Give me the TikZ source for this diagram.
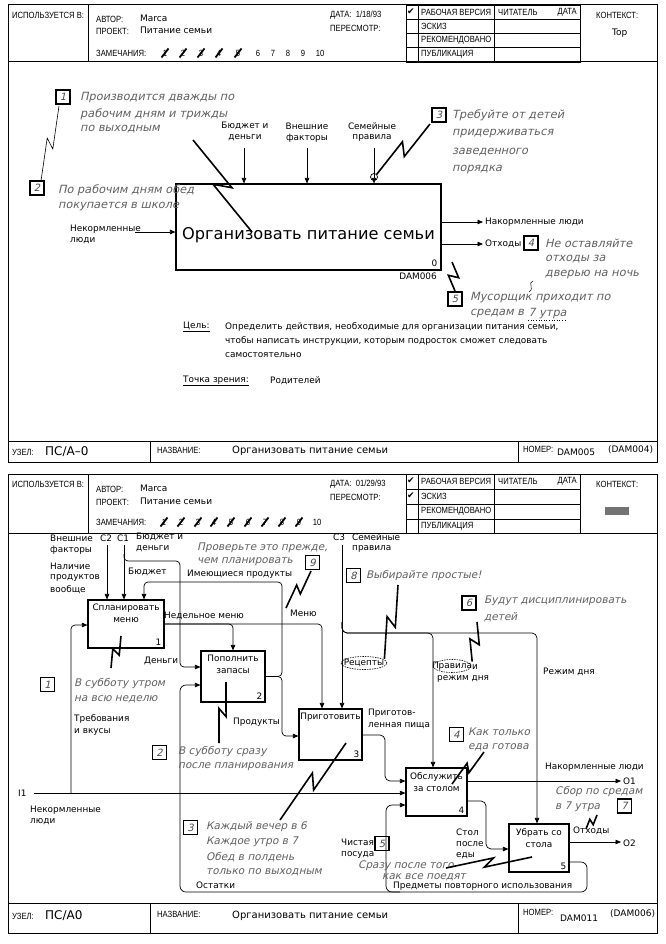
\documentclass[tikz,border=0pt]{standalone}
\usepackage{fontspec}
\setmainfont{DejaVu Sans}
\newfontfamily\lblfont{DejaVu Sans}
\newfontfamily\hdrfont[FakeStretch=0.85]{Liberation Sans}
\newfontfamily\notefont[FakeSlant=0.22]{DejaVu Sans}
\newfontfamily\symfont{DejaVu Sans}
\usetikzlibrary{arrows.meta,calc,shapes.geometric}
\tikzset{
  frame/.style={line width=1pt},
  grid/.style={line width=0.9pt},
  actbox/.style={draw, line width=1.1pt, inner sep=0pt},
  conn/.style={line width=0.7pt, -{Triangle[length=5.5pt,width=4.5pt]}},
  zapline/.style={line width=1.6pt},
  thinzap/.style={line width=0.6pt},
  lbl/.style={font=\lblfont\fontsize{8.9}{10}\selectfont, inner sep=0pt, anchor=west},
  lblc/.style={font=\lblfont\fontsize{8.9}{10}\selectfont, inner sep=0pt, anchor=center},
  hdr/.style={font=\hdrfont\fontsize{9}{10}\selectfont, inner sep=0pt, anchor=west},
  hdrval/.style={font=\lblfont\fontsize{9}{10}\selectfont, inner sep=0pt, anchor=west},
  notet/.style={font=\notefont\fontsize{11.3}{12}\selectfont, text=black!62, inner sep=0pt, anchor=west},
  noteb/.style={font=\notefont\fontsize{10.5}{12}\selectfont, text=black!62, inner sep=0pt, anchor=west},
  notebox/.style={draw, line width=1.1pt, minimum size=14pt, inner sep=0pt, font=\notefont\fontsize{10}{10}\selectfont, text=black!70},
  chk/.style={font=\symfont\fontsize{9}{9}\selectfont, inner sep=0pt},
}
\newcommand{\zap}[4][zapline]{\draw[#1] (#2) -- ($(#2)!0.56!(#3)!#4pt!90:(#3)$) -- ($(#2)!0.44!(#3)!#4pt!-90:(#3)$) -- (#3);}
\newcommand{\crossnum}[4]{\node[hdr,anchor=center] (#4) at (#1,#2) {#3}; \draw[line width=1.8pt] ({#1-3.5},{#2+4.5}) -- ({#1+3.5},{#2-4.5});}
\begin{document}
\begin{tikzpicture}[x=1pt,y=-1pt]
\fill[white] (0,0) rectangle (665,944);
\useasboundingbox (0,0) rectangle (665,944);

% ================= TOP SHEET =================
\draw[frame] (8,5) rectangle (657,462);
\draw[frame] (8,62) -- (657,62);
\draw[grid] (88,5) -- (88,62);
\draw[grid] (406,5) rectangle (580,62);
\draw[grid] (406,19) -- (580,19) (406,33) -- (580,33) (406,47) -- (580,47);
\draw[grid] (418,5) -- (418,62) (494,5) -- (494,62);
\node[hdr] (h1a) at (12,15) {ИСПОЛЬЗУЕТСЯ В:};
\node[hdr] (h1b) at (96,19) {АВТОР:};
\node[hdrval] (h1c) at (140,18) {Marca};
\node[hdr] (h1d) at (96,31) {ПРОЕКТ:};
\node[hdrval] (h1e) at (140,30) {Питание семьи};
\node[hdr] (h1f) at (96,53) {ЗАМЕЧАНИЯ:};
\crossnum{165}{53}{1}{m1a}
\crossnum{183}{53}{2}{m1b}
\crossnum{201}{53}{3}{m1c}
\crossnum{219}{53}{4}{m1d}
\crossnum{238}{53}{5}{m1e}
\node[hdr,anchor=center] (m1f) at (258,53) {6};
\node[hdr,anchor=center] (m1g) at (273,53) {7};
\node[hdr,anchor=center] (m1h) at (288,53) {8};
\node[hdr,anchor=center] (m1i) at (303,53) {9};
\node[hdr,anchor=center] (m1j) at (320,53) {10};
\node[hdr] (h1g) at (330,15) {ДАТА: \ 1/18/93};
\node[hdr] (h1h) at (330,28) {ПЕРЕСМОТР:};
\node[chk] (h1q) at (411,12) {✔};
\node[hdr] (h1i) at (421,12) {РАБОЧАЯ ВЕРСИЯ};
\node[hdr] (h1j) at (421,26) {ЭСКИЗ};
\node[hdr] (h1k) at (421,40) {РЕКОМЕНДОВАНО};
\node[hdr] (h1l) at (421,54) {ПУБЛИКАЦИЯ};
\node[hdr] (h1m) at (498,12) {ЧИТАТЕЛЬ};
\node[hdr,anchor=east] (h1n) at (577,12) {ДАТА};
\node[hdr] (h1o) at (596,15) {КОНТЕКСТ:};
\node[hdrval] (h1p) at (612,33) {Top};

% footer
\draw[frame] (8,441) -- (657,441);
\draw[grid] (150,441) -- (150,462) (518,441) -- (518,462);
\node[hdr] (f1a) at (12,452) {УЗЕЛ:};
\node[font=\lblfont\fontsize{12}{12}\selectfont, inner sep=0pt, anchor=west] (f1b) at (45,452) {ПС/А–0};
\node[hdr] (f1c) at (157,450) {НАЗВАНИЕ:};
\node[font=\lblfont\fontsize{10}{10}\selectfont, inner sep=0pt, anchor=west] (f1d) at (232,451) {Организовать питание семьи};
\node[hdr] (f1e) at (523,449) {НОМЕР:};
\node[hdrval] (f1f) at (557,452) {DAM005};
\node[hdrval] (f1g) at (608,450) {(DAM004)};

% main box
\node[actbox, minimum width=265, minimum height=86] (t0) at (308.5,227) {};
\node[font=\lblfont\fontsize{16.2}{17}\selectfont, inner sep=0pt] (t0t) at (308.5,235) {Организовать питание семьи};
\node[lbl, anchor=south east] (t0n) at ([xshift=-4pt,yshift=4pt]t0.south east) {0};
\node[lbl, anchor=east] (t0d) at (437,276) {DAM006};

% inputs/controls/outputs
\node[lbl] (tl1) at (70,229) {Некормленные};
\node[lbl] (tl2) at (70,241) {люди};
\coordinate (tin) at (135,232);
\draw[conn] (tin) -- (t0.west |- tin);
\node[lblc] (tl3) at (245,126) {Бюджет и};
\node[lblc] (tl4) at (245,138) {деньги};
\node[lblc] (tl5) at (307,126) {Внешние};
\node[lblc] (tl6) at (307,138) {факторы};
\node[lblc] (tl7) at (372,126) {Семейные};
\node[lblc] (tl8) at (372,138) {правила};
\coordinate (tc1) at (244,148);
\coordinate (tc2) at (307,148);
\coordinate (tc3) at (374,148);
\draw[conn] (tc1) -- (t0.north -| tc1);
\draw[conn] (tc2) -- (t0.north -| tc2);
\draw[conn] (tc3) -- (t0.north -| tc3);
\node[draw, circle, minimum size=7pt, inner sep=0pt, line width=0.7pt] (tcirc) at (374,177) {};
\coordinate (to1) at (483,222);
\coordinate (to2) at (483,244);
\draw[conn] (t0.east |- to1) -- (to1);
\draw[conn] (t0.east |- to2) -- (to2);
\node[lbl] (tl9) at (485,222) {Накормленные люди};
\node[lbl] (tl10) at (485,244) {Отходы};

% notes top
\node[notebox] (tn1) at (63,97) {1};
\node[notet] (tn1a) at (80,98) {Производится дважды по};
\node[notet] (tn1b) at (80,114) {рабочим дням и трижды};
\node[notet] (tn1c) at (80,129) {по выходным};
\node[notebox] (tn2) at (37,188) {2};
\node[notet] (tn2a) at (58,190) {По рабочим дням обед};
\node[notet] (tn2b) at (58,207) {покупается в школе};
\node[notebox] (tn3) at (439,115) {3};
\node[notet] (tn3a) at (452,115) {Требуйте от детей};
\node[notet] (tn3b) at (452,134) {придерживаться};
\node[notet] (tn3c) at (452,152) {заведенного};
\node[notet] (tn3d) at (452,170) {порядка};
\node[notebox] (tn4) at (531,243) {4};
\node[notet] (tn4a) at (545,243) {Не оставляйте};
\node[notet] (tn4b) at (545,259) {отходы за};
\node[notet] (tn4c) at (545,275) {дверью на ночь};
\node[notebox] (tn5) at (455,299) {5};
\node[notet] (tn5a) at (470,298) {Мусорщик приходит по};
\node[notet] (tn5b) at (470,314) {средам в};
\node[notet, anchor=west] (tn5c) at ([xshift=4pt]tn5b.east) {7 утра};
\draw[dotted, line width=0.6pt] ([yshift=-1pt]tn5c.south west) -- ([yshift=-1pt]tn5c.south east);
\zap[thinzap]{59,106}{41,181}{4}
\zap{193,140}{252,232}{7}
\zap{430,124}{tcirc.north east}{6}
\zap{452,262}{455,291}{5}
\draw[line width=0.5pt] (533,281) .. controls (527,283) and (535,288) .. (529,292);

% goal
\node[lbl] (goalk) at (183,327) {\underline{Цель:}};
\node[lbl] (goal1) at (225,327) {Определить действия, необходимые для организации питания семьи,};
\node[lbl] (goal2) at (225,341) {чтобы написать инструкции, которым подросток сможет следовать};
\node[lbl] (goal3) at (225,355) {самостоятельно};
\node[lbl] (vpk) at (183,381) {\underline{Точка зрения:}};
\node[lbl] (vp1) at (270,381) {Родителей};

% ================= BOTTOM SHEET =================
\draw[frame] (8,474) rectangle (657,933);
\draw[frame] (8,533) -- (657,533);
\draw[grid] (88,474) -- (88,533);
\draw[grid] (406,474) rectangle (580,533);
\draw[grid] (406,489) -- (580,489) (406,504) -- (580,504) (406,519) -- (580,519);
\draw[grid] (418,474) -- (418,533) (494,474) -- (494,533);
\node[hdr] (h2a) at (12,484) {ИСПОЛЬЗУЕТСЯ В:};
\node[hdr] (h2b) at (96,489) {АВТОР:};
\node[hdrval] (h2c) at (140,488) {Marca};
\node[hdr] (h2d) at (96,502) {ПРОЕКТ:};
\node[hdrval] (h2e) at (140,501) {Питание семьи};
\node[hdr] (h2f) at (96,522) {ЗАМЕЧАНИЯ:};
\crossnum{164}{522}{1}{m2a}
\crossnum{181}{522}{2}{m2b}
\crossnum{198}{522}{3}{m2c}
\crossnum{214}{522}{4}{m2d}
\crossnum{231}{522}{5}{m2e}
\crossnum{248}{522}{6}{m2f}
\crossnum{265}{522}{7}{m2g}
\crossnum{282}{522}{8}{m2h}
\crossnum{299}{522}{9}{m2i}
\node[hdr,anchor=center] (m2j) at (317,522) {10};
\node[hdr] (h2g) at (330,484) {ДАТА: \ 01/29/93};
\node[hdr] (h2h) at (330,497) {ПЕРЕСМОТР:};
\node[chk] (h2q) at (411,481) {✔};
\node[chk] (h2r) at (411,496) {✔};
\node[hdr] (h2i) at (421,481.5) {РАБОЧАЯ ВЕРСИЯ};
\node[hdr] (h2j) at (421,496.5) {ЭСКИЗ};
\node[hdr] (h2k) at (421,511.5) {РЕКОМЕНДОВАНО};
\node[hdr] (h2l) at (421,526) {ПУБЛИКАЦИЯ};
\node[hdr] (h2m) at (498,481.5) {ЧИТАТЕЛЬ};
\node[hdr,anchor=east] (h2n) at (577,481.5) {ДАТА};
\node[hdr] (h2o) at (596,484) {КОНТЕКСТ:};
\node[fill=black!55, minimum width=24pt, minimum height=8pt, inner sep=0pt] (ctxb) at (617,511) {};

% footer
\draw[frame] (8,903) -- (657,903);
\draw[grid] (150,903) -- (150,933) (518,903) -- (518,933);
\node[hdr] (f2a) at (12,916) {УЗЕЛ:};
\node[font=\lblfont\fontsize{12}{12}\selectfont, inner sep=0pt, anchor=west] (f2b) at (45,916) {ПС/А0};
\node[hdr] (f2c) at (157,914) {НАЗВАНИЕ:};
\node[font=\lblfont\fontsize{10}{10}\selectfont, inner sep=0pt, anchor=west] (f2d) at (232,916) {Организовать питание семьи};
\node[hdr] (f2e) at (523,912) {НОМЕР:};
\node[hdrval] (f2f) at (560,918) {DAM011};
\node[hdrval] (f2g) at (610,914) {(DAM006)};

% activity boxes
\node[actbox, minimum width=76, minimum height=48] (b1) at (126,624) {};
\node[lblc, align=center, anchor=north, font=\lblfont\fontsize{8.9}{12}\selectfont] (b1t) at (126,604) {Спланировать\\меню};
\node[lbl, anchor=south east] (b1n) at ([xshift=-3pt,yshift=3pt]b1.south east) {1};
\node[actbox, minimum width=64, minimum height=51] (b2) at (233,676.5) {};
\node[lblc, align=center, anchor=north, font=\lblfont\fontsize{8.9}{12}\selectfont] (b2t) at (233,655) {Пополнить\\запасы};
\node[lbl, anchor=south east] (b2n) at ([xshift=-3pt,yshift=3pt]b2.south east) {2};
\node[actbox, minimum width=63, minimum height=51] (b3) at (330.5,734.5) {};
\node[lblc, anchor=north] (b3t) at (330.5,713) {Приготовить};
\node[lbl, anchor=south east] (b3n) at ([xshift=-3pt,yshift=3pt]b3.south east) {3};
\node[actbox, minimum width=61, minimum height=48] (b4) at (436.5,792) {};
\node[lblc, align=center, anchor=north, font=\lblfont\fontsize{8.9}{12}\selectfont] (b4t) at (436.5,772) {Обслужить\\за столом};
\node[lbl, anchor=south east] (b4n) at ([xshift=-3pt,yshift=3pt]b4.south east) {4};
\node[actbox, minimum width=60, minimum height=48] (b5) at (539,848) {};
\node[lblc, align=center, anchor=north, font=\lblfont\fontsize{8.9}{12}\selectfont] (b5t) at (539,828) {Убрать со\\стола};
\node[lbl, anchor=south east] (b5n) at ([xshift=-3pt,yshift=3pt]b5.south east) {5};

% connectors
\coordinate (c2top) at (107,545);
\coordinate (c1top) at (124,545);
\coordinate (c3top) at (342,545);
\coordinate (i1) at (34,793);
\coordinate (o1) at (621,781);
\coordinate (o2) at (621,842);
\draw[conn] (c2top) -- (b1.north -| c2top);
\draw[conn] (c1top) -- (b1.north -| c1top);
\draw[conn, rounded corners=4] (124,554) |- (180,561) |- (b2.west |- 0,667);
\draw[conn] (i1) -- (b4.west |- i1);
\draw[conn, rounded corners=4] (71,793) |- (b1.west |- 0,625);
\draw[conn, rounded corners=4] (b1.east) -| (b2.north);
\draw[conn, rounded corners=4] (b1.east) -| (b3.north -| 322,0);
\draw[conn, rounded corners=4] (b2.east) -| (282,582) -| (b1.north -| 144,0);
\draw[conn, rounded corners=4] (b2.east) -| (282,736) -- (b3.west |- 0,736);
\draw[conn] (c3top) -- (b3.north -| c3top);
\draw[conn, rounded corners=5] (342,622) |- (433,633) -- (b4.north -| 433,0);
\draw[conn, rounded corners=5] (342,622) |- (537,633) -- (b5.north -| 537,0);
\draw[conn, rounded corners=5] (b3.east |- 0,735) -| (385,781) -- (b4.west |- 0,781);
\draw[conn, rounded corners=6] (b5.east |- 0,862) -| (587,892) -| (386,805) -- (b4.west |- 0,805);
\draw[conn, rounded corners=6] (400,892) -| (180,685) -- (b2.west |- 0,685);
\draw[conn, rounded corners=5] (b4.east |- 0,801) -| (486,849) -- (b5.west |- 0,849);
\draw[conn] (b4.east |- o1) -- (o1);
\draw[conn] (b5.east |- o2) -- (o2);

% labels bottom
\node[lbl] (l1) at (50,538) {Внешние};
\node[lbl] (l2) at (50,550) {факторы};
\node[lbl] (l3) at (100,538) {C2};
\node[lbl] (l4) at (117,538) {C1};
\node[lbl] (l5) at (136,537) {Бюджет и};
\node[lbl] (l6) at (136,549) {деньги};
\node[lbl] (l7) at (50,566) {Наличие};
\node[lbl] (l8) at (50,578) {продуктов};
\node[lbl] (l9) at (50,590) {вообще};
\node[lbl] (l10) at (128,572) {Бюджет};
\node[lbl] (l11) at (187,574) {Имеющиеся продукты};
\node[lbl] (l12) at (333,537) {C3};
\node[lbl] (l13) at (352,537) {Семейные};
\node[lbl] (l14) at (352,549) {правила};
\node[lbl] (l15) at (164,616) {Недельное меню};
\node[lbl] (l16) at (290,613) {Меню};
\node[lbl] (l17) at (144,661) {Деньги};
\node[lblc] (rec) at (364,663) {Рецепты};
\draw[dash pattern=on 1.5pt off 1pt, line width=0.6pt] (rec.center) ellipse [x radius=23pt, y radius=6.5pt];
\node[lblc] (prv) at (452,666) {Правила};
\draw[dash pattern=on 1.5pt off 1pt, line width=0.6pt] (prv.center) ellipse [x radius=19pt, y radius=6.5pt];
\node[lbl] (l18) at (472,667) {и};
\node[lbl] (l19) at (437,679) {режим дня};
\node[lbl] (l20) at (543,672) {Режим дня};
\node[lbl] (l21) at (74,719) {Требования};
\node[lbl] (l22) at (74,732) {и вкусы};
\node[lbl] (l23) at (233,722) {Продукты};
\node[lbl] (l24) at (368,713) {Приготов-};
\node[lbl] (l25) at (368,726) {ленная пища};
\node[lbl] (l26) at (545,767) {Накормленные люди};
\node[lbl] (l27) at (623,781) {O1};
\node[lbl] (l28) at (18,793) {I1};
\node[lbl] (l29) at (30,810) {Некормленные};
\node[lbl] (l30) at (30,822) {люди};
\node[lbl] (l31) at (573,831) {Отходы};
\node[lbl] (l32) at (623,843) {O2};
\node[lbl] (l33) at (456,832) {Стол};
\node[lbl] (l34) at (456,844) {после};
\node[lbl] (l35) at (456,856) {еды};
\node[lbl] (l36) at (341,842) {Чистая};
\node[lbl] (l37) at (341,855) {посуда};
\node[lbl] (l38) at (196,885) {Остатки};
\node[lbl] (l39) at (393,886) {Предметы повторного использования};

% notes bottom
\node[notebox] (bn9) at (312.5,562.5) {9};
\node[noteb] (bn9a) at (197,548) {Проверьте это прежде,};
\node[noteb] (bn9b) at (197,562) {чем планировать};
\node[notebox] (bn8) at (353.5,575.5) {8};
\node[noteb] (bn8a) at (366,576) {Выбирайте простые!};
\node[notebox] (bn6) at (469,603) {6};
\node[noteb] (bn6a) at (484,601) {Будут дисциплинировать};
\node[noteb] (bn6b) at (484,617) {детей};
\node[notebox] (bn1) at (47.5,684.5) {1};
\node[noteb] (bn1a) at (74,684) {В субботу утром};
\node[noteb] (bn1b) at (74,699) {на всю неделю};
\node[notebox] (bn4) at (456.5,734.5) {4};
\node[noteb] (bn4a) at (468,732) {Как только};
\node[noteb] (bn4b) at (468,747) {еда готова};
\node[notebox] (bn2) at (159.5,752.5) {2};
\node[noteb] (bn2a) at (178,752) {В субботу сразу};
\node[noteb] (bn2b) at (178,767) {после планирования};
\node[notebox] (bn7) at (624.5,806) {7};
\node[noteb] (bn7a) at (555,792) {Сбор по средам};
\node[noteb] (bn7b) at (555,807) {в 7 утра};
\node[notebox] (bn3) at (190.5,827.5) {3};
\node[noteb] (bn3a) at (206,827) {Каждый вечер в 6};
\node[noteb] (bn3b) at (206,842) {Каждое утро в 7};
\node[noteb] (bn3c) at (206,857) {Обед в полдень};
\node[noteb] (bn3d) at (206,872) {только по выходным};
\node[notebox] (bn5) at (382,843.5) {5};
\node[noteb] (bn5a) at (358,866) {Сразу после того};
\node[noteb] (bn5b) at (382,877) {как все поедят};

\zap{311,571}{286,608}{4}
\zap{398,585}{rec.north east}{5}
\zap{477,622}{prv.north east}{5}
\zap{121,636}{111,668}{4}
\zap{226,682}{219,743}{4}
\zap{484,752}{452,784}{4}
\zap{597,815}{586,829}{3}
\zap{346,743}{280,820}{6}
\zap{532,857}{446,868}{4}
\end{tikzpicture}
\end{document}
